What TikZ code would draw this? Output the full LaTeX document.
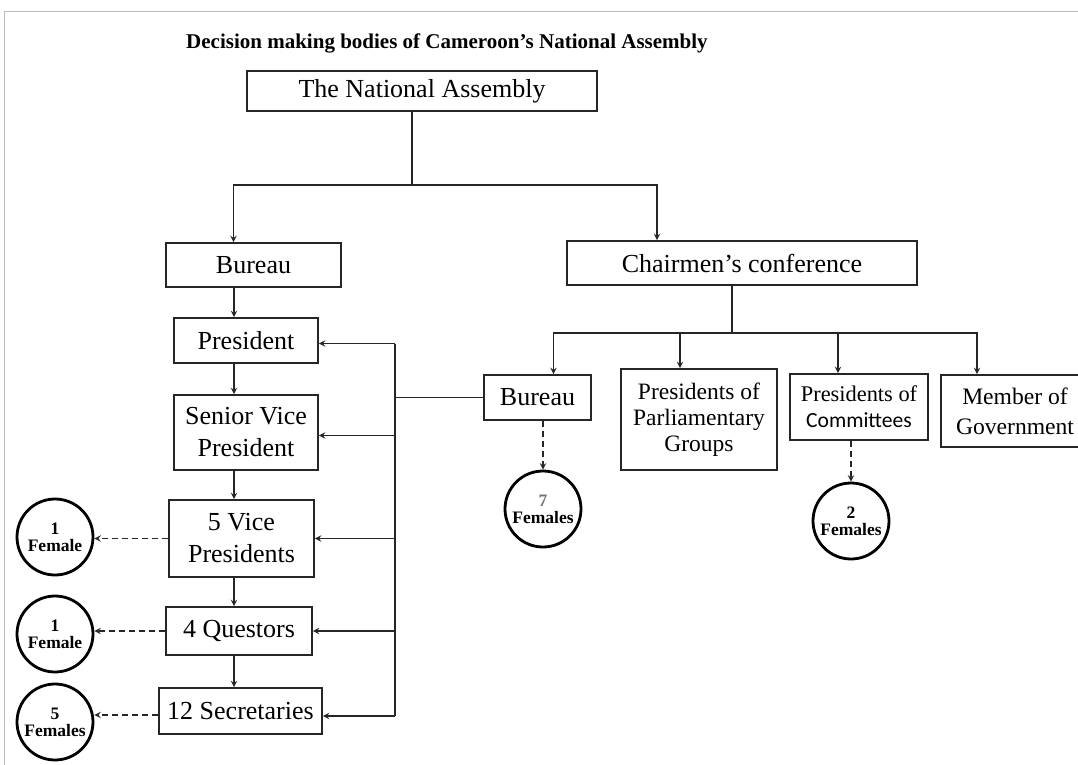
\documentclass[tikz,border=0pt]{standalone}
\usepackage{fontspec}
\setmainfont{Liberation Serif}
\newfontfamily\calfont{Carlito}
\usepackage{tikz}

\begin{document}
\begin{tikzpicture}[x=1pt,y=-1pt,>=stealth,
        box/.style={draw=black!85, line width=1.8pt, inner sep=0pt, align=center, font=\fontsize{26}{32}\selectfont},
        fembox/.style={draw=black, circle, line width=2.8pt, minimum size=76pt, inner sep=0pt, align=center, font=\bfseries\fontsize{17.5}{17}\selectfont},
        link/.style={->, line width=1.8pt, draw=black!85},
        dlink/.style={->, line width=1.8pt, draw=black!85, dash pattern=on 6pt off 4pt}]
        \useasboundingbox (0,0) rectangle (1078,765);
        \clip (0,0) rectangle (1078,765);
        \draw[gray!55, line width=1pt] (4,765) -- (4,12) -- (1078,12);

        \node[font=\bfseries\fontsize{21}{24}\selectfont] (title) at (447,43) {Decision making bodies of Cameroon’s National Assembly};

        % top of the tree
        \node[box, minimum width=350, minimum height=40] (na) at (422,91) {The National Assembly};
        \node[box, minimum width=175, minimum height=44] (bur) at (253.5,265) {Bureau};
        \node[box, minimum width=350, minimum height=44] (cc) at (742,263) {Chairmen’s conference};

        % left column
        \node[box, minimum width=144, minimum height=45] (pres) at (246,340.5) {President};
        \node[box, minimum width=144, minimum height=75] (svp) at (246,432.5) {Senior Vice\\President};
        \node[box, minimum width=145, minimum height=77] (vp) at (241.5,538.5) {5 Vice\\Presidents};
        \node[box, minimum width=146, minimum height=48] (qu) at (239,631) {4 Questors};
        \node[box, minimum width=163, minimum height=46] (sec) at (240.5,711) {12 Secretaries};

        \node[fembox] (fvp) at (55,537) {1\\Female};
        \node[fembox] (fqu) at (55,634) {1\\Female};
        \node[fembox] (fsec) at (55,722) {5\\Females};

        % right row
        \node[box, minimum width=107, minimum height=45] (bur2) at (537.5,397.5) {Bureau};
        \node[box, minimum width=156, minimum height=101, font=\fontsize{23.5}{26}\selectfont] (ppg) at (699,419.5) {Presidents of\\Parliamentary\\Groups};
        \node[box, minimum width=138, minimum height=66, font=\fontsize{22.4}{26}\selectfont] (pcm) at (859,407) {Presidents of\\{\calfont\fontsize{21.6}{26}\selectfont Committees}};
        \node[box, minimum width=148, minimum height=72, font=\fontsize{23.6}{30}\selectfont] (mog) at (1015,411) {Member of\\Government};

        \node[fembox] (fbur) at (543,509) {\textcolor{black!55}{7}\\Females};
        \node[fembox] (fpcm) at (851,521) {2\\Females};

        % connectors
        \coordinate (nasplit) at (412,185);
        \coordinate (ccsplit) at (732,333);
        \coordinate (chainx) at (234,0);
        \coordinate (bus) at (395,0);

        \draw[link, -] ([xshift=-10pt]na.south) -- (nasplit);
        \draw[link] (nasplit) -| ([xshift=-20pt]bur.north);
        \draw[link] (nasplit) -| ([xshift=-85pt]cc.north);

        \draw[link] (bur.south -| chainx) -- (pres.north -| chainx);
        \draw[link] (pres.south -| chainx) -- (svp.north -| chainx);
        \draw[link] (svp.south -| chainx) -- (vp.north -| chainx);
        \draw[link] (vp.south -| chainx) -- (qu.north -| chainx);
        \draw[link] (qu.south -| chainx) -- (sec.north -| chainx);

        \draw[link, -] ([yshift=-3pt]bus |- pres.east) -- ([yshift=-5pt]bus |- sec.east);
        \draw[link] ([yshift=-3pt]bus |- pres.east) -- ([yshift=-3pt]pres.east);
        \draw[link] ([yshift=-3pt]bus |- svp.east) -- ([yshift=-3pt]svp.east);
        \draw[link] (bus |- vp.east) -- (vp.east);
        \draw[link] (bus |- qu.east) -- (qu.east);
        \draw[link] ([yshift=-5pt]bus |- sec.east) -- ([yshift=-5pt]sec.east);
        \draw[link, -] (bus |- bur2.west) -- (bur2.west);

        \draw[link, -] ([xshift=-10pt]cc.south) -- (ccsplit);
        \draw[link] (ccsplit) -| ([xshift=16pt]bur2.north);
        \draw[link] (ccsplit) -| ([xshift=-19pt]ppg.north);
        \draw[link] (ccsplit) -| ([xshift=-21pt]pcm.north);
        \draw[link] (ccsplit) -| ([xshift=-38pt]mog.north);

        \draw[dlink] (vp.west) -- (vp.west -| fvp.east);
        \draw[dlink] (qu.west) -- (qu.west -| fqu.east);
        \draw[dlink] ([yshift=-4pt]sec.west) -- ([yshift=-4pt]sec.west -| fsec.east);
        \draw[dlink] (fbur.north |- bur2.south) -- (fbur.north);
        \draw[dlink] (fpcm.north |- pcm.south) -- (fpcm.north);
\end{tikzpicture}
\end{document}
